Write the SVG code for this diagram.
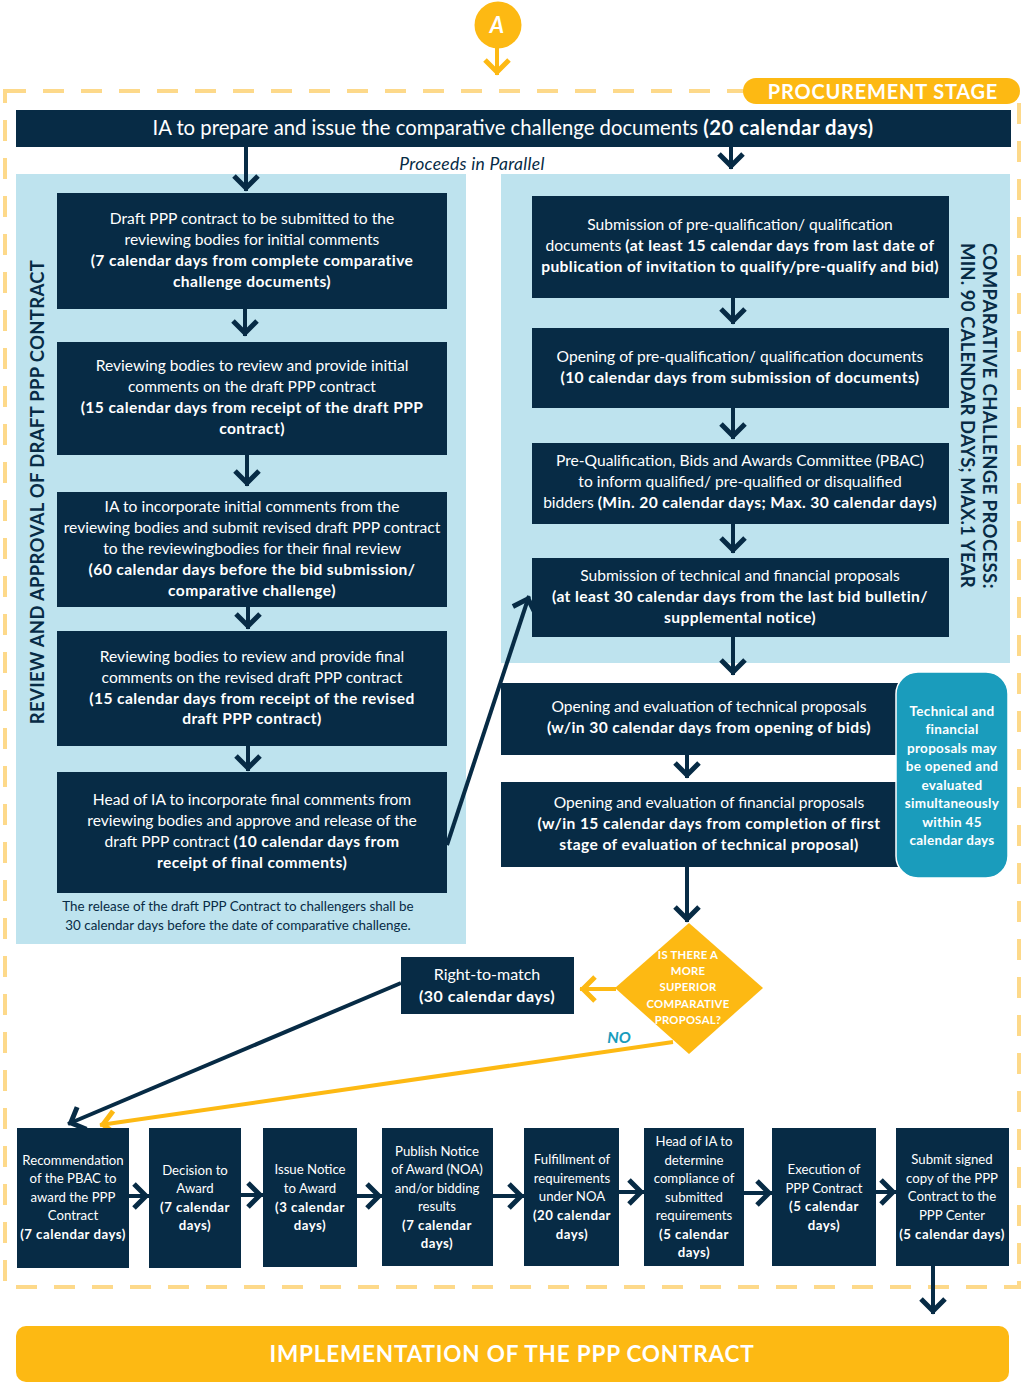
<svg xmlns="http://www.w3.org/2000/svg" width="1024" height="1383" viewBox="0 0 1024 1383">
<style>
.n{fill:#072B45}
.lb{fill:#BEE3EE}
.y{fill:#FDB913}
.t{font-family:Lato,'Open Sans','Liberation Sans',sans-serif;fill:#fff;text-anchor:middle}
.s15{font-size:15.6px}
.s15 .b{letter-spacing:0.4px}
.s13{font-size:13.2px}
.s13 .b{letter-spacing:0.5px}
.b{font-weight:700}
.cn{fill:none;stroke:#072B45;stroke-width:4}
.cy{fill:none;stroke:#FDB913;stroke-width:4}
</style>
<defs>
<marker id="an" markerUnits="userSpaceOnUse" markerWidth="40" markerHeight="40" viewBox="-20 -20 40 40" refX="0" refY="0" orient="auto" overflow="visible">
<path d="M-15,-12 L-3,0 L-15,12" fill="none" stroke="#072B45" stroke-width="5"/>
</marker>
<marker id="ay" markerUnits="userSpaceOnUse" markerWidth="40" markerHeight="40" viewBox="-20 -20 40 40" refX="0" refY="0" orient="auto" overflow="visible">
<path d="M-15,-12 L-3,0 L-15,12" fill="none" stroke="#FDB913" stroke-width="5"/>
</marker>
</defs>
<rect width="1024" height="1383" fill="#fff"/>
<!-- dashed frame -->
<rect x="5" y="91" width="1014" height="1196" fill="none" stroke="#FDD98A" stroke-width="4" stroke-dasharray="21 17"/>
<!-- panels -->
<rect class="lb" x="16" y="174" width="450" height="770"/>
<rect class="lb" x="501" y="174" width="509" height="489"/>

<g id="connectors">
<line class="cy" x1="497" y1="46" x2="497" y2="75" marker-end="url(#ay)"/>
<line class="cn" x1="246" y1="147" x2="246" y2="191" marker-end="url(#an)"/>
<line class="cn" x1="731" y1="147" x2="731" y2="169" marker-end="url(#an)"/>
<line class="cn" x1="245" y1="309" x2="245" y2="336" marker-end="url(#an)"/>
<line class="cn" x1="247" y1="455" x2="247" y2="486" marker-end="url(#an)"/>
<line class="cn" x1="248" y1="607" x2="248" y2="629" marker-end="url(#an)"/>
<line class="cn" x1="248" y1="746" x2="248" y2="771" marker-end="url(#an)"/>
<line class="cn" x1="733" y1="298" x2="733" y2="324" marker-end="url(#an)"/>
<line class="cn" x1="733" y1="408" x2="733" y2="439" marker-end="url(#an)"/>
<line class="cn" x1="733" y1="524" x2="733" y2="553" marker-end="url(#an)"/>
<line class="cn" x1="733" y1="637" x2="733" y2="675" marker-end="url(#an)"/>
<line class="cn" x1="687" y1="755" x2="687" y2="778" marker-end="url(#an)"/>
<line class="cn" x1="687" y1="867" x2="687" y2="922" marker-end="url(#an)"/>
<line class="cn" x1="447" y1="845" x2="529" y2="596" marker-end="url(#an)"/>
<line class="cy" x1="616" y1="989" x2="580" y2="989" marker-end="url(#ay)"/>
<line class="cn" x1="401" y1="983" x2="68" y2="1124" marker-end="url(#an)"/>
<line class="cy" x1="673" y1="1042" x2="100" y2="1125" marker-end="url(#ay)"/>
<line class="cn" x1="129" y1="1196" x2="149" y2="1196" marker-end="url(#an)"/>
<line class="cn" x1="241" y1="1195" x2="263" y2="1195" marker-end="url(#an)"/>
<line class="cn" x1="357" y1="1196" x2="382" y2="1196" marker-end="url(#an)"/>
<line class="cn" x1="493" y1="1196" x2="524" y2="1196" marker-end="url(#an)"/>
<line class="cn" x1="619" y1="1192" x2="644" y2="1192" marker-end="url(#an)"/>
<line class="cn" x1="744" y1="1193" x2="772" y2="1193" marker-end="url(#an)"/>
<line class="cn" x1="876" y1="1192" x2="896" y2="1192" marker-end="url(#an)"/>
<line class="cn" x1="933" y1="1266" x2="933" y2="1314" marker-end="url(#an)"/>
<text x="619" y="1043" font-family="Lato,'Open Sans',sans-serif" font-size="16" font-weight="700" font-style="italic" fill="#1A9CBC" text-anchor="middle">NO</text>
</g>

<g id="nodeA">
<ellipse cx="498" cy="25" rx="23.5" ry="23.5" class="y"/>
<text class="t b" x="497" y="33" font-size="22" font-style="italic">A</text>
</g>

<g id="procurement-stage">
<rect class="y" x="743" y="78" width="277" height="26" rx="13"/>
<text class="t b" x="883" y="98.5" font-size="20" letter-spacing="0.8">PROCUREMENT STAGE</text>
</g>

<g id="top-bar">
<rect class="n" x="16" y="110" width="995" height="37"/>
<text class="t" x="513" y="135" font-size="20.3">IA to prepare and issue the comparative challenge documents <tspan class="b" letter-spacing="0.5">(20 calendar days)</tspan></text>
</g>

<text x="472" y="170" font-family="Lato,'Open Sans',sans-serif" font-size="17.5" font-style="italic" letter-spacing="0.3" fill="#072B45" text-anchor="middle">Proceeds in Parallel</text>

<g id="left-label">
<text transform="translate(44,492) rotate(-90)" x="0" y="0" font-family="Lato,'Open Sans',sans-serif" font-size="18.5" font-weight="700" letter-spacing="0.3" fill="#072B45" text-anchor="middle">REVIEW AND APPROVAL OF DRAFT PPP CONTRACT</text>
</g>

<g id="right-label" font-family="Lato,'Open Sans',sans-serif" font-size="18.5" font-weight="700" fill="#072B45">
<text transform="translate(983,243) rotate(90)" x="0" y="0" letter-spacing="0.4">COMPARATIVE CHALLENGE PROCESS:</text>
<text transform="translate(961,243) rotate(90)" x="0" y="0" letter-spacing="0.15">MIN. 90 CALENDAR DAYS; MAX.1 YEAR</text>
</g>

<g id="L1">
<rect class="n" x="57" y="193" width="390" height="116"/>
<text class="t s15" x="252"><tspan x="252" y="224">Draft PPP contract to be submitted to the</tspan><tspan x="252" y="245">reviewing bodies for initial comments</tspan><tspan class="b" x="252" y="266">(7 calendar days from complete comparative</tspan><tspan class="b" x="252" y="287">challenge documents)</tspan></text>
</g>
<g id="L2">
<rect class="n" x="57" y="342" width="390" height="113"/>
<text class="t s15" x="252"><tspan x="252" y="371">Reviewing bodies to review and provide initial</tspan><tspan x="252" y="392">comments on the draft PPP contract</tspan><tspan class="b" x="252" y="413">(15 calendar days from receipt of the draft PPP</tspan><tspan class="b" x="252" y="434">contract)</tspan></text>
</g>
<g id="L3">
<rect class="n" x="57" y="492" width="390" height="115"/>
<text class="t s15" x="252"><tspan x="252" y="512">IA to incorporate initial comments from the</tspan><tspan x="252" y="533">reviewing bodies and submit revised draft PPP contract</tspan><tspan x="252" y="554">to the reviewingbodies for their final review</tspan><tspan class="b" x="252" y="575">(60 calendar days before the bid submission/</tspan><tspan class="b" x="252" y="596">comparative challenge)</tspan></text>
</g>
<g id="L4">
<rect class="n" x="57" y="631" width="390" height="115"/>
<text class="t s15" x="252"><tspan x="252" y="662">Reviewing bodies to review and provide final</tspan><tspan x="252" y="683">comments on the revised draft PPP contract</tspan><tspan class="b" x="252" y="704">(15 calendar days from receipt of the revised</tspan><tspan class="b" x="252" y="724">draft PPP contract)</tspan></text>
</g>
<g id="L5">
<rect class="n" x="57" y="772" width="390" height="121"/>
<text class="t s15" x="252"><tspan x="252" y="805">Head of IA to incorporate final comments from</tspan><tspan x="252" y="826">reviewing bodies and approve and release of the</tspan><tspan x="252" y="847">draft PPP contract <tspan class="b">(10 calendar days from</tspan></tspan><tspan class="b" x="252" y="868">receipt of final comments)</tspan></text>
</g>
<g id="L-note">
<text x="238" font-family="Lato,'Open Sans',sans-serif" font-size="13.4" fill="#072B45" text-anchor="middle"><tspan x="238" y="911">The release of the draft PPP Contract to challengers shall be</tspan><tspan x="238" y="930">30 calendar days before the date of comparative challenge.</tspan></text>
</g>

<g id="R1">
<rect class="n" x="532" y="196" width="417" height="102"/>
<text class="t s15" x="740"><tspan x="740" y="230">Submission of pre-qualification/ qualification</tspan><tspan x="740" y="251">documents <tspan class="b">(at least 15 calendar days from last date of</tspan></tspan><tspan class="b" x="740" y="272">publication of invitation to qualify/pre-qualify and bid)</tspan></text>
</g>
<g id="R2">
<rect class="n" x="532" y="328" width="417" height="80"/>
<text class="t s15" x="740"><tspan x="740" y="362">Opening of pre-qualification/ qualification documents</tspan><tspan class="b" x="740" y="383">(10 calendar days from submission of documents)</tspan></text>
</g>
<g id="R3">
<rect class="n" x="532" y="443" width="417" height="81"/>
<text class="t s15" x="740"><tspan x="740" y="466">Pre-Qualification, Bids and Awards Committee (PBAC)</tspan><tspan x="740" y="487">to inform qualified/ pre-qualified or disqualified</tspan><tspan x="740" y="508">bidders <tspan class="b">(Min. 20 calendar days; Max. 30 calendar days)</tspan></tspan></text>
</g>
<g id="R4">
<rect class="n" x="532" y="558" width="417" height="79"/>
<text class="t s15" x="740"><tspan x="740" y="581">Submission of technical and financial proposals</tspan><tspan class="b" x="740" y="602">(at least 30 calendar days from the last bid bulletin/</tspan><tspan class="b" x="740" y="623">supplemental notice)</tspan></text>
</g>
<g id="R5">
<rect class="n" x="501" y="683" width="416" height="72"/>
<text class="t s15" x="709"><tspan x="709" y="712">Opening and evaluation of technical proposals</tspan><tspan class="b" x="709" y="733">(w/in 30 calendar days from opening of bids)</tspan></text>
</g>
<g id="R6">
<rect class="n" x="501" y="782" width="416" height="85"/>
<text class="t s15" x="709"><tspan x="709" y="808">Opening and evaluation of financial proposals</tspan><tspan class="b" x="709" y="829">(w/in 15 calendar days from completion of first</tspan><tspan class="b" x="709" y="850">stage of evaluation of technical proposal)</tspan></text>
</g>
<g id="teal-note">
<rect x="896" y="672" width="112" height="206" rx="22" fill="#1A9CBC" stroke="#fff" stroke-width="1.5"/>
<text class="t b" x="952" font-size="13.5" letter-spacing="0.3"><tspan x="952" y="716">Technical and</tspan><tspan x="952" y="734">financial</tspan><tspan x="952" y="753">proposals may</tspan><tspan x="952" y="771">be opened and</tspan><tspan x="952" y="790">evaluated</tspan><tspan x="952" y="808">simultaneously</tspan><tspan x="952" y="827">within 45</tspan><tspan x="952" y="845">calendar days</tspan></text>
</g>

<g id="decision">
<polygon class="y" points="689,923 763,988 689,1054 615,988"/>
<text class="t b" x="688" font-size="11.3" letter-spacing="0.25"><tspan x="688" y="959">IS THERE A</tspan><tspan x="688" y="975">MORE</tspan><tspan x="688" y="991">SUPERIOR</tspan><tspan x="688" y="1008">COMPARATIVE</tspan><tspan x="688" y="1024">PROPOSAL?</tspan></text>
</g>

<g id="right-to-match">
<rect class="n" x="401" y="957" width="173" height="57"/>
<text class="t" x="487" font-size="16"><tspan x="487" y="980">Right-to-match</tspan><tspan class="b" x="487" y="1002" letter-spacing="0.5">(30 calendar days)</tspan></text>
</g>

<g id="B1">
<rect class="n" x="17" y="1128" width="112" height="140"/>
<text class="t s13" x="73"><tspan x="73" y="1165">Recommendation</tspan><tspan x="73" y="1183">of the PBAC to</tspan><tspan x="73" y="1202">award the PPP</tspan><tspan x="73" y="1220">Contract</tspan><tspan class="b" x="73" y="1239">(7 calendar days)</tspan></text>
</g>
<g id="B2">
<rect class="n" x="149" y="1128" width="92" height="140"/>
<text class="t s13" x="195"><tspan x="195" y="1175">Decision to</tspan><tspan x="195" y="1193">Award</tspan><tspan class="b" x="195" y="1212">(7 calendar</tspan><tspan class="b" x="195" y="1230">days)</tspan></text>
</g>
<g id="B3">
<rect class="n" x="263" y="1128" width="94" height="139"/>
<text class="t s13" x="310"><tspan x="310" y="1174">Issue Notice</tspan><tspan x="310" y="1193">to Award</tspan><tspan class="b" x="310" y="1212">(3 calendar</tspan><tspan class="b" x="310" y="1230">days)</tspan></text>
</g>
<g id="B4">
<rect class="n" x="382" y="1128" width="111" height="138"/>
<text class="t s13" x="437"><tspan x="437" y="1156">Publish Notice</tspan><tspan x="437" y="1174">of Award (NOA)</tspan><tspan x="437" y="1193">and/or bidding</tspan><tspan x="437" y="1211">results</tspan><tspan class="b" x="437" y="1230">(7 calendar</tspan><tspan class="b" x="437" y="1248">days)</tspan></text>
</g>
<g id="B5">
<rect class="n" x="524" y="1128" width="95" height="138"/>
<text class="t s13" x="572"><tspan x="572" y="1164">Fulfillment of</tspan><tspan x="572" y="1183">requirements</tspan><tspan x="572" y="1201">under NOA</tspan><tspan class="b" x="572" y="1220">(20 calendar</tspan><tspan class="b" x="572" y="1239">days)</tspan></text>
</g>
<g id="B6">
<rect class="n" x="644" y="1128" width="100" height="138"/>
<text class="t s13" x="694"><tspan x="694" y="1146">Head of IA to</tspan><tspan x="694" y="1165">determine</tspan><tspan x="694" y="1183">compliance of</tspan><tspan x="694" y="1202">submitted</tspan><tspan x="694" y="1220">requirements</tspan><tspan class="b" x="694" y="1239">(5 calendar</tspan><tspan class="b" x="694" y="1257">days)</tspan></text>
</g>
<g id="B7">
<rect class="n" x="772" y="1128" width="104" height="138"/>
<text class="t s13" x="824"><tspan x="824" y="1174">Execution of</tspan><tspan x="824" y="1193">PPP Contract</tspan><tspan class="b" x="824" y="1211">(5 calendar</tspan><tspan class="b" x="824" y="1230">days)</tspan></text>
</g>
<g id="B8">
<rect class="n" x="896" y="1128" width="113" height="138"/>
<text class="t s13" x="952"><tspan x="952" y="1164">Submit signed</tspan><tspan x="952" y="1183">copy of the PPP</tspan><tspan x="952" y="1201">Contract to the</tspan><tspan x="952" y="1220">PPP Center</tspan><tspan class="b" x="952" y="1239">(5 calendar days)</tspan></text>
</g>

<g id="implementation">
<rect class="y" x="16" y="1326" width="993" height="56" rx="10"/>
<text class="t b" x="512" y="1362" font-size="22.5" letter-spacing="0.8">IMPLEMENTATION OF THE PPP CONTRACT</text>
</g>
</svg>
